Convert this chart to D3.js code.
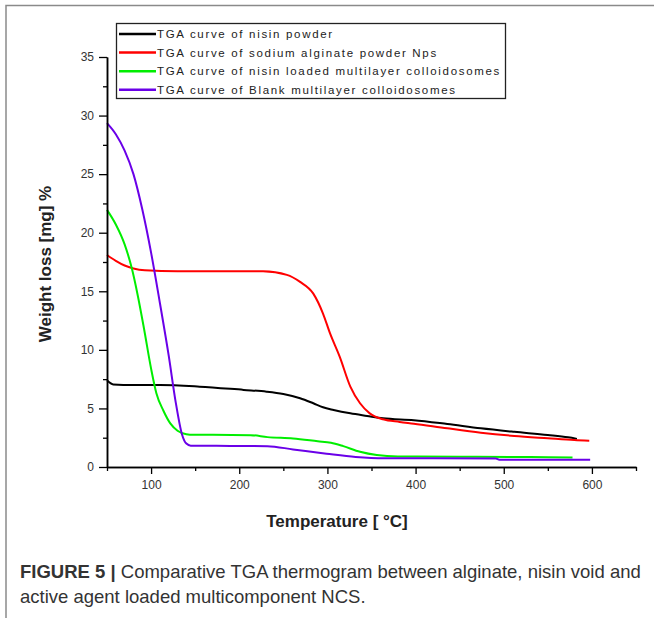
<!DOCTYPE html>
<html>
<head>
<meta charset="utf-8">
<script src="https://cdn.jsdelivr.net/npm/d3@7"></script>
<style>
    body { margin: 0; background: #fff; }
    svg { display: block; font-family: "Liberation Sans", Arial, sans-serif; }
</style>
</head>
<body>
<div id="chart"></div>
<script>
// Series (temperature in °C, weight loss in %)
const nisinTemp = [50, 57, 80, 110, 155, 205, 231, 250, 269, 284, 295, 307, 326, 345, 363, 398, 436, 474, 512, 550, 573, 583];
const nisinLoss = [7.4, 7.05, 7.0, 7.0, 6.86, 6.58, 6.43, 6.23, 5.87, 5.44, 5.1, 4.87, 4.58, 4.36, 4.16, 4.0, 3.67, 3.3, 3.0, 2.73, 2.53, 2.4];

const alginateTemp = [50, 60, 70, 80, 93, 130, 178, 227, 254, 269, 284, 295, 303, 314, 326, 337, 348, 363, 382, 398, 436, 474, 512, 550, 580, 597];
const alginateLoss = [18.1, 17.6, 17.2, 16.95, 16.8, 16.72, 16.72, 16.7, 16.4, 15.8, 14.8, 13.1, 11.4, 9.4, 6.86, 5.44, 4.58, 4.07, 3.85, 3.7, 3.3, 2.93, 2.65, 2.45, 2.3, 2.25];

const loadedTemp = [50, 60, 70, 78, 85, 92, 100, 106, 114, 122, 130, 140, 148, 170, 213, 232, 261, 289, 304, 318, 337, 356, 380, 450, 530, 578];
const loadedLoss = [21.95, 20.7, 19.0, 17.0, 14.6, 11.8, 8.4, 6.3, 4.8, 3.7, 3.1, 2.8, 2.75, 2.75, 2.72, 2.55, 2.44, 2.2, 2.07, 1.78, 1.3, 1.02, 0.9, 0.88, 0.85, 0.82];

const blankTemp = [50, 60, 70, 80, 90, 100, 110, 120, 128, 135, 140, 145, 190, 232, 261, 299, 332, 365, 420, 491, 495, 598];
const blankLoss = [29.35, 28.4, 27.0, 25.0, 22.0, 18.3, 14.0, 9.5, 5.5, 2.8, 2.0, 1.82, 1.8, 1.78, 1.5, 1.13, 0.85, 0.74, 0.74, 0.72, 0.62, 0.62];

const seriesNames = [
    "TGA curve of nisin powder",
    "TGA curve of  sodium alginate powder Nps",
    "TGA curve of nisin loaded multilayer colloidosomes",
    "TGA curve of Blank multilayer colloidosomes"
];
const seriesColors = ["#000000", "#ff0000", "#00ee00", "#6a00e8"];

const xTicks = [100, 200, 300, 400, 500, 600];
const yTicks = [0, 5, 10, 15, 20, 25, 30, 35];

const series = [
    { name: seriesNames[0], color: seriesColors[0], temp: nisinTemp, loss: nisinLoss },
    { name: seriesNames[1], color: seriesColors[1], temp: alginateTemp, loss: alginateLoss },
    { name: seriesNames[2], color: seriesColors[2], temp: loadedTemp, loss: loadedLoss },
    { name: seriesNames[3], color: seriesColors[3], temp: blankTemp, loss: blankLoss }
];

const W = 654, H = 618;

const svg = d3.select("#chart")
    .append("svg")
    .attr("width", W)
    .attr("height", H);

// figure frame (top and left edge of the journal panel)
svg.append("path")
    .attr("d", "M6,618 V5.5 H654")
    .attr("fill", "none")
    .attr("stroke", "#8a8a8a")
    .attr("stroke-width", 1.5);

const x = d3.scaleLinear()
    .domain([50, 650])
    .range([107, 636]);

const y = d3.scaleLinear()
    .domain([0, 35])
    .range([467, 57]);

// curves
const line = d3.line()
    .x(d => x(d[0]))
    .y(d => y(d[1]))
    .curve(d3.curveMonotoneX);

svg.selectAll(".curve")
    .data(series)
    .enter()
    .append("path")
    .attr("class", "curve")
    .attr("fill", "none")
    .attr("stroke", d => d.color)
    .attr("stroke-width", 2)
    .attr("d", d => line(d.temp.map((t, i) => [t, d.loss[i]])));

// axes
const xAxis = svg.append("g")
    .attr("transform", `translate(0,${y(0)})`)
    .call(d3.axisBottom(x).tickValues(xTicks).tickSize(7).tickPadding(6).tickSizeOuter(0));

const xMinor = svg.append("g")
    .attr("transform", `translate(0,${y(0)})`)
    .call(d3.axisBottom(x).tickValues(d3.range(50, 651, 100)).tickSize(4).tickFormat("").tickSizeOuter(0));

const yAxis = svg.append("g")
    .attr("transform", `translate(${x(50)},0)`)
    .call(d3.axisLeft(y).tickValues(yTicks).tickSize(8).tickPadding(5).tickSizeOuter(0));

const yMinor = svg.append("g")
    .attr("transform", `translate(${x(50)},0)`)
    .call(d3.axisLeft(y).tickValues(d3.range(2.5, 35, 5)).tickSize(4).tickFormat("").tickSizeOuter(0));

[xAxis, xMinor, yAxis, yMinor].forEach(g => {
    g.select(".domain").attr("stroke", "#000").attr("stroke-width", 1.5);
    g.selectAll(".tick line").attr("stroke", "#000").attr("stroke-width", 1.3);
    g.selectAll(".tick text")
        .attr("fill", "#333")
        .style("font-size", "12px")
        .style("font-family", "'Liberation Sans', Arial, sans-serif");
});

// axis titles
svg.append("text")
    .attr("text-anchor", "middle")
    .attr("x", 337)
    .attr("y", 527)
    .style("font-size", "17px")
    .style("font-weight", "bold")
    .attr("fill", "#222")
    .text("Temperature [ °C]");

svg.append("text")
    .attr("text-anchor", "middle")
    .attr("transform", "translate(51,264) rotate(-90)")
    .style("font-size", "17px")
    .style("font-weight", "bold")
    .attr("fill", "#222")
    .text("Weight loss [mg] %");

// legend
const legend = svg.append("g");

legend.append("rect")
    .attr("x", 116.5)
    .attr("y", 23.5)
    .attr("width", 389)
    .attr("height", 75)
    .attr("fill", "#fff")
    .attr("stroke", "#222")
    .attr("stroke-width", 1.3);

const items = legend.selectAll(".legend-item")
    .data(series)
    .enter()
    .append("g")
    .attr("class", "legend-item")
    .attr("transform", (d, i) => `translate(0,${34 + i * 18.6})`);

items.append("line")
    .attr("x1", 119)
    .attr("x2", 156)
    .attr("stroke", d => d.color)
    .attr("stroke-width", 2.5);

const labels = items.append("text")
    .attr("x", 157)
    .attr("dy", "0.35em")
    .attr("fill", "#222")
    .style("font-size", "11.5px")
    .text(d => d.name);

// stretch letter spacing so the widest entry fills the box like the original
const widest = labels.nodes()[2];
const spacing = (344 - widest.getComputedTextLength()) / seriesNames[2].length;
labels.style("letter-spacing", `${spacing}px`);

// caption
const caption = svg.append("g")
    .style("font-size", "18.5px")
    .attr("fill", "#333");

const line1 = caption.append("text")
    .attr("x", 20)
    .attr("y", 578);
line1.append("tspan")
    .style("font-weight", "bold")
    .text("FIGURE 5 |");
line1.append("tspan")
    .text(" Comparative TGA thermogram between alginate, nisin void and");

caption.append("text")
    .attr("x", 20)
    .attr("y", 603)
    .text("active agent loaded multicomponent NCS.");
</script>
</body>
</html>
